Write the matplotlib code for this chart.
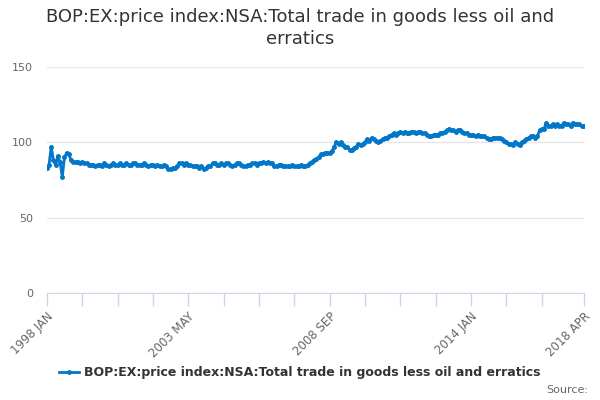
import matplotlib
matplotlib.use("Agg")
import matplotlib.pyplot as plt

title = "BOP:EX:price index:NSA:Total trade in goods less oil and\nerratics"
series_name = "BOP:EX:price index:NSA:Total trade in goods less oil and erratics"

# monthly values, 1998 JAN .. 2018 APR
values = [
    83, 85, 97, 88, 85, 91, 87, 77, 90, 93, 92, 88,
    87, 87, 87, 86, 87, 86, 86, 85, 85, 85, 84, 85,
    85, 84, 86, 85, 84, 85, 86, 85, 85, 86, 85, 85,
    86, 85, 85, 86, 86, 85, 85, 85, 86, 85, 84, 85,
    85, 84, 85, 84, 84, 85, 84, 82, 82, 83, 83, 84,
    86, 86, 85, 86, 85, 85, 84, 84, 84, 83, 84, 82,
    83, 84, 84, 86, 86, 85, 85, 86, 85, 86, 86, 85,
    84, 85, 86, 86, 85, 84, 84, 85, 85, 86, 86, 85,
    86, 86, 87, 86, 87, 86, 86, 84, 84, 85, 85, 84,
    84, 84, 84, 85, 84, 84, 84, 85, 84, 84, 85, 86,
    87, 88, 89, 90, 92, 92, 93, 93, 93, 94, 97, 100,
    99, 100, 98, 97, 97, 95, 95, 96, 97, 99, 98, 99,
    100, 102, 101, 103, 102, 101, 100, 101, 102, 103, 103, 104,
    105, 106, 105, 106, 107, 106, 107, 106, 106, 107, 107, 106,
    107, 107, 106, 106, 105, 104, 104, 105, 105, 105, 106, 106,
    107, 108, 109, 108, 108, 107, 108, 108, 107, 106, 106, 105,
    105, 105, 104, 105, 104, 104, 104, 103, 102, 102, 103, 103,
    103, 103, 102, 101, 100, 99, 99, 98, 100, 99, 98, 100,
    101, 102, 103, 104, 104, 103, 104, 108, 109, 109, 113, 111,
    111, 112, 111, 112, 111, 111, 113, 112, 112, 111, 113, 112,
    112, 112, 111, 111,
]
label_positions = [0, 64, 128, 192, 243]
tick_labels = ["1998 JAN", "2003 MAY", "2008 SEP", "2014 JAN", "2018 APR"]
minor_positions = list(range(0, 225, 16)) + [243]
y_ticks = [0, 50, 100, 150]

plt.rcParams['font.family'] = ['DejaVu Sans']
fig = plt.figure(figsize=(6, 4), dpi=100)
ax = fig.add_axes([0.078, 0.2675, 0.895, 0.565])

color = "#0077c8"
x = list(range(len(values)))
line, = ax.plot(x, values, color=color, linewidth=2, marker="o", markersize=2.5,
                label=series_name, zorder=3)

ax.set_xlim(0, len(values) - 1)
ax.set_ylim(0, 150)
ax.set_yticks(y_ticks)
ax.set_yticklabels([str(v) for v in y_ticks], color="#666666", fontsize=8)
ax.yaxis.grid(True, color="#e6e6e6", linewidth=1)
ax.tick_params(axis="y", length=0, pad=10)

ax.set_xticks(minor_positions, minor=True)
ax.set_xticks(label_positions)
ax.set_xticklabels(tick_labels, rotation=45, ha="right", va="top",
                   rotation_mode="anchor", color="#666666", fontsize=8.5)
ax.tick_params(axis="x", which="both", length=9, color="#ccd6eb", width=1)
ax.tick_params(axis="x", which="major", pad=3)

for s in ["top", "right", "left"]:
    ax.spines[s].set_visible(False)
ax.spines["bottom"].set_color("#ccd6eb")
ax.set_axisbelow(True)

fig.text(0.5, 0.93, title, ha="center", va="center", fontsize=13, color="#333333",
         linespacing=1.3)

leg = fig.legend(handles=[line], loc="center", bbox_to_anchor=(0.5, 0.068),
                 frameon=False, fontsize=9, handlelength=1.6, handletextpad=0.4)
for t in leg.get_texts():
    t.set_color("#333333")
    t.set_fontweight("bold")

fig.text(0.98, 0.025, "Source:", ha="right", va="center", fontsize=8, color="#666666")

fig.savefig("out.png", dpi=100)
